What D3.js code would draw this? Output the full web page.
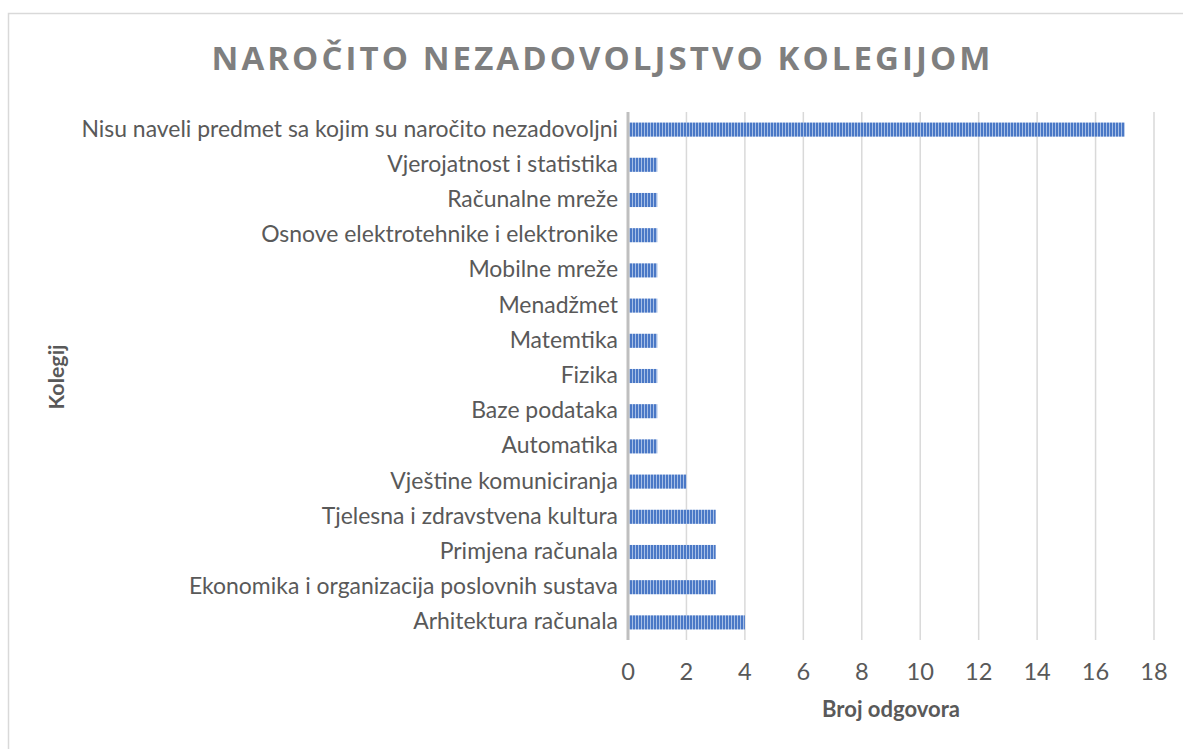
<!DOCTYPE html>
<html><head><meta charset="utf-8">
<script src="https://cdn.jsdelivr.net/npm/d3@7"></script>
<style>body{margin:0;background:#fff}svg{display:block}</style>
</head><body>
<svg id="c" width="1183" height="749"></svg>
<script>
const categories = ["Nisu naveli predmet sa kojim su naročito nezadovoljni","Vjerojatnost i statistika","Računalne mreže","Osnove elektrotehnike i elektronike","Mobilne mreže","Menadžmet","Matemtika","Fizika","Baze podataka","Automatika","Vještine komuniciranja","Tjelesna i zdravstvena kultura","Primjena računala","Ekonomika i organizacija poslovnih sustava","Arhitektura računala"];
const values = [17,1,1,1,1,1,1,1,1,1,2,3,3,3,4];
const ticks = [0,2,4,6,8,10,12,14,16,18];
const title = "NAROČITO NEZADOVOLJSTVO KOLEGIJOM";
const xTitle = "Broj odgovora";
const yTitle = "Kolegij";

const svg = d3.select("#c");
const font = "Lato, 'Open Sans', sans-serif";
const defs = svg.append("defs");
const pat = defs.append("pattern").attr("id","stripes").attr("patternUnits","userSpaceOnUse")
  .attr("width",3).attr("height",10);
pat.append("rect").attr("width",3).attr("height",10).attr("fill","#a7bfe6");
pat.append("rect").attr("width",2).attr("height",10).attr("fill","#4a78c6");

svg.append("rect").attr("x",8.5).attr("y",13.5).attr("width",1300).attr("height",900)
  .attr("fill","none").attr("stroke","#d9d9d9").attr("stroke-width",1.5);

const x = d3.scaleLinear().domain([0,18]).range([628,1154]);
const y = d3.scaleBand().domain(categories).range([112,640]).paddingInner(0.6).paddingOuter(0.3);

svg.append("g").selectAll("line").data(ticks.slice(1)).join("line")
  .attr("x1",d=>x(d)).attr("x2",d=>x(d)).attr("y1",112).attr("y2",640)
  .attr("stroke","#d9d9d9").attr("stroke-width",1.5);

svg.append("g").selectAll("rect").data(values).join("rect")
  .attr("x",x(0)).attr("y",(d,i)=>y(categories[i]))
  .attr("width",d=>x(d)-x(0)).attr("height",y.bandwidth())
  .attr("fill","url(#stripes)");

svg.append("line").attr("x1",x(0)).attr("x2",x(0)).attr("y1",112).attr("y2",640)
  .attr("stroke","#bfbfbf").attr("stroke-width",3);

function fit(sel, target){
  const w = sel.node().getComputedTextLength();
  const s = parseFloat(sel.attr("font-size"));
  return s*target/w;
}

const labels = svg.append("g").selectAll("text").data(categories).join("text")
  .attr("x",618).attr("y",d=>y(d)+y.bandwidth()/2+7)
  .attr("text-anchor","end").attr("font-family",font).attr("font-size",20)
  .attr("fill","#595959").text(d=>d);
const lsz = fit(labels.filter((d,i)=>i===0), 537);
labels.attr("font-size",lsz);

svg.append("g").selectAll("text").data(ticks).join("text")
  .attr("x",d=>x(d)).attr("y",680)
  .attr("text-anchor","middle").attr("font-family",font).attr("font-size",lsz*1.03)
  .attr("fill","#595959").text(d=>d);

const t = svg.append("text").attr("x",601).attr("y",70).attr("text-anchor","middle")
  .attr("font-family","'Open Sans', sans-serif").attr("font-weight","bold").attr("font-size",33)
  .attr("fill","#7f7f7f").text(title);
const tw = t.node().getComputedTextLength();
const ls = Math.max(0,(779 - tw)/(title.length-1));
t.attr("letter-spacing",ls).attr("x",601+ls/2);

const xt = svg.append("text").attr("x",891).attr("y",717).attr("text-anchor","middle")
  .attr("font-family",font).attr("font-weight","bold").attr("font-size",18)
  .attr("fill","#595959").text(xTitle);
xt.attr("font-size",fit(xt,138));

const yt = svg.append("text").attr("transform","translate(64,377) rotate(-90)")
  .attr("text-anchor","middle").attr("font-family",font).attr("font-weight","bold").attr("font-size",18)
  .attr("fill","#595959").text(yTitle);
yt.attr("font-size",fit(yt,65));
</script>
</body></html>
